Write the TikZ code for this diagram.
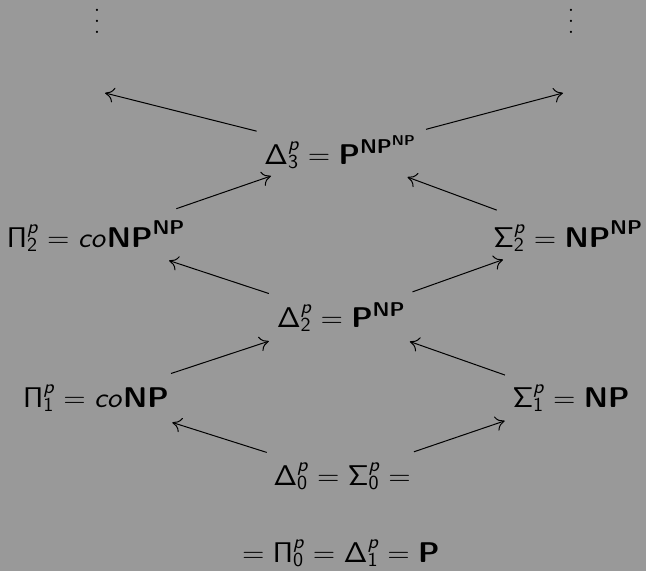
\RequirePackage{fix-cm}
\documentclass[tikz,border=0pt]{standalone}
\usetikzlibrary{arrows.meta}
\definecolor{bg}{RGB}{153,153,153}
\DeclareMathAlphabet{\msf}{OT1}{cmss}{m}{n}
\DeclareMathAlphabet{\msfit}{OT1}{cmss}{m}{it}
\DeclareMathAlphabet{\msfbf}{OT1}{cmss}{bx}{n}
\newcommand\Lv[2]{\msf{#1}_{\msf{#2}}^{\msfit{p}}}
\newcommand\cls[1]{\msfbf{#1}}
\newcommand\wide[1]{\scalebox{1.07}[1]{#1}}
\newcommand\myvdots{\vbox{\baselineskip11pt\lineskiplimit0pt\hbox{.}\hbox{.}\hbox{.}}}
\begin{document}
\begin{tikzpicture}[x=1pt,y=-1pt,
  lab/.style={font=\fontsize{28.5}{34}\selectfont, inner sep=0pt, anchor=base},
  dts/.style={font=\fontsize{27.5}{33}\selectfont, inner sep=0pt},
  arr/.style 2 args={-{To[length=9pt,width=15pt]}, line width=1pt, shorten <=#1, shorten >=#2}]
\fill[bg] (0,0) rectangle (646,571);
\useasboundingbox (0,0) rectangle (646,571);
\node[dts] (vl) at (97,21) {\myvdots};
\node[dts] (vr) at (571,21) {\myvdots};
\coordinate (tl) at (105,93);
\coordinate (tr) at (563,93);
\node[lab] (d3) at (340,164) {\wide{$\Lv{\Delta}{3} = \cls{P}^{\cls{NP}^{\cls{NP}}}$}};
\node[lab] (p2) at (96,247) {\wide{$\Lv{\Pi}{2} = \msfit{co}\cls{NP}^{\cls{NP}}$}};
\node[lab] (s2) at (568,247) {\wide{$\Lv{\Sigma}{2} = \cls{NP}^{\cls{NP}}$}};
\node[lab] (d2) at (341,327) {\wide{$\Lv{\Delta}{2} = \cls{P}^{\cls{NP}}$}};
\node[lab] (p1) at (96,407) {\wide{$\Lv{\Pi}{1} = \msfit{co}\cls{NP}$}};
\node[lab] (s1) at (571,407) {\wide{$\Lv{\Sigma}{1} = \cls{NP}$}};
\node[lab] (d0) at (342,485) {\wide{$\Lv{\Delta}{0} = \Lv{\Sigma}{0} =$}};
\node[lab] (pp) at (341,562) {\wide{$= \Lv{\Pi}{0} = \Lv{\Delta}{1} = \cls{P}$}};
\draw[arr={86pt}{0pt}] (d3.center) -- (tl);
\draw[arr={89pt}{0pt}] (d3.center) -- (tr);
\draw[arr={85pt}{73pt}] (p2.center) -- (d3.center);
\draw[arr={76pt}{72pt}] (s2.center) -- (d3.center);
\draw[arr={76pt}{77pt}] (d2.center) -- (p2.center);
\draw[arr={76pt}{69pt}] (d2.center) -- (s2.center);
\draw[arr={79pt}{76pt}] (p1.center) -- (d2.center);
\draw[arr={70pt}{73pt}] (s1.center) -- (d2.center);
\draw[arr={79pt}{80pt}] (d0.center) -- (p1.center);
\draw[arr={76pt}{70pt}] (d0.center) -- (s1.center);
\end{tikzpicture}
\end{document}
